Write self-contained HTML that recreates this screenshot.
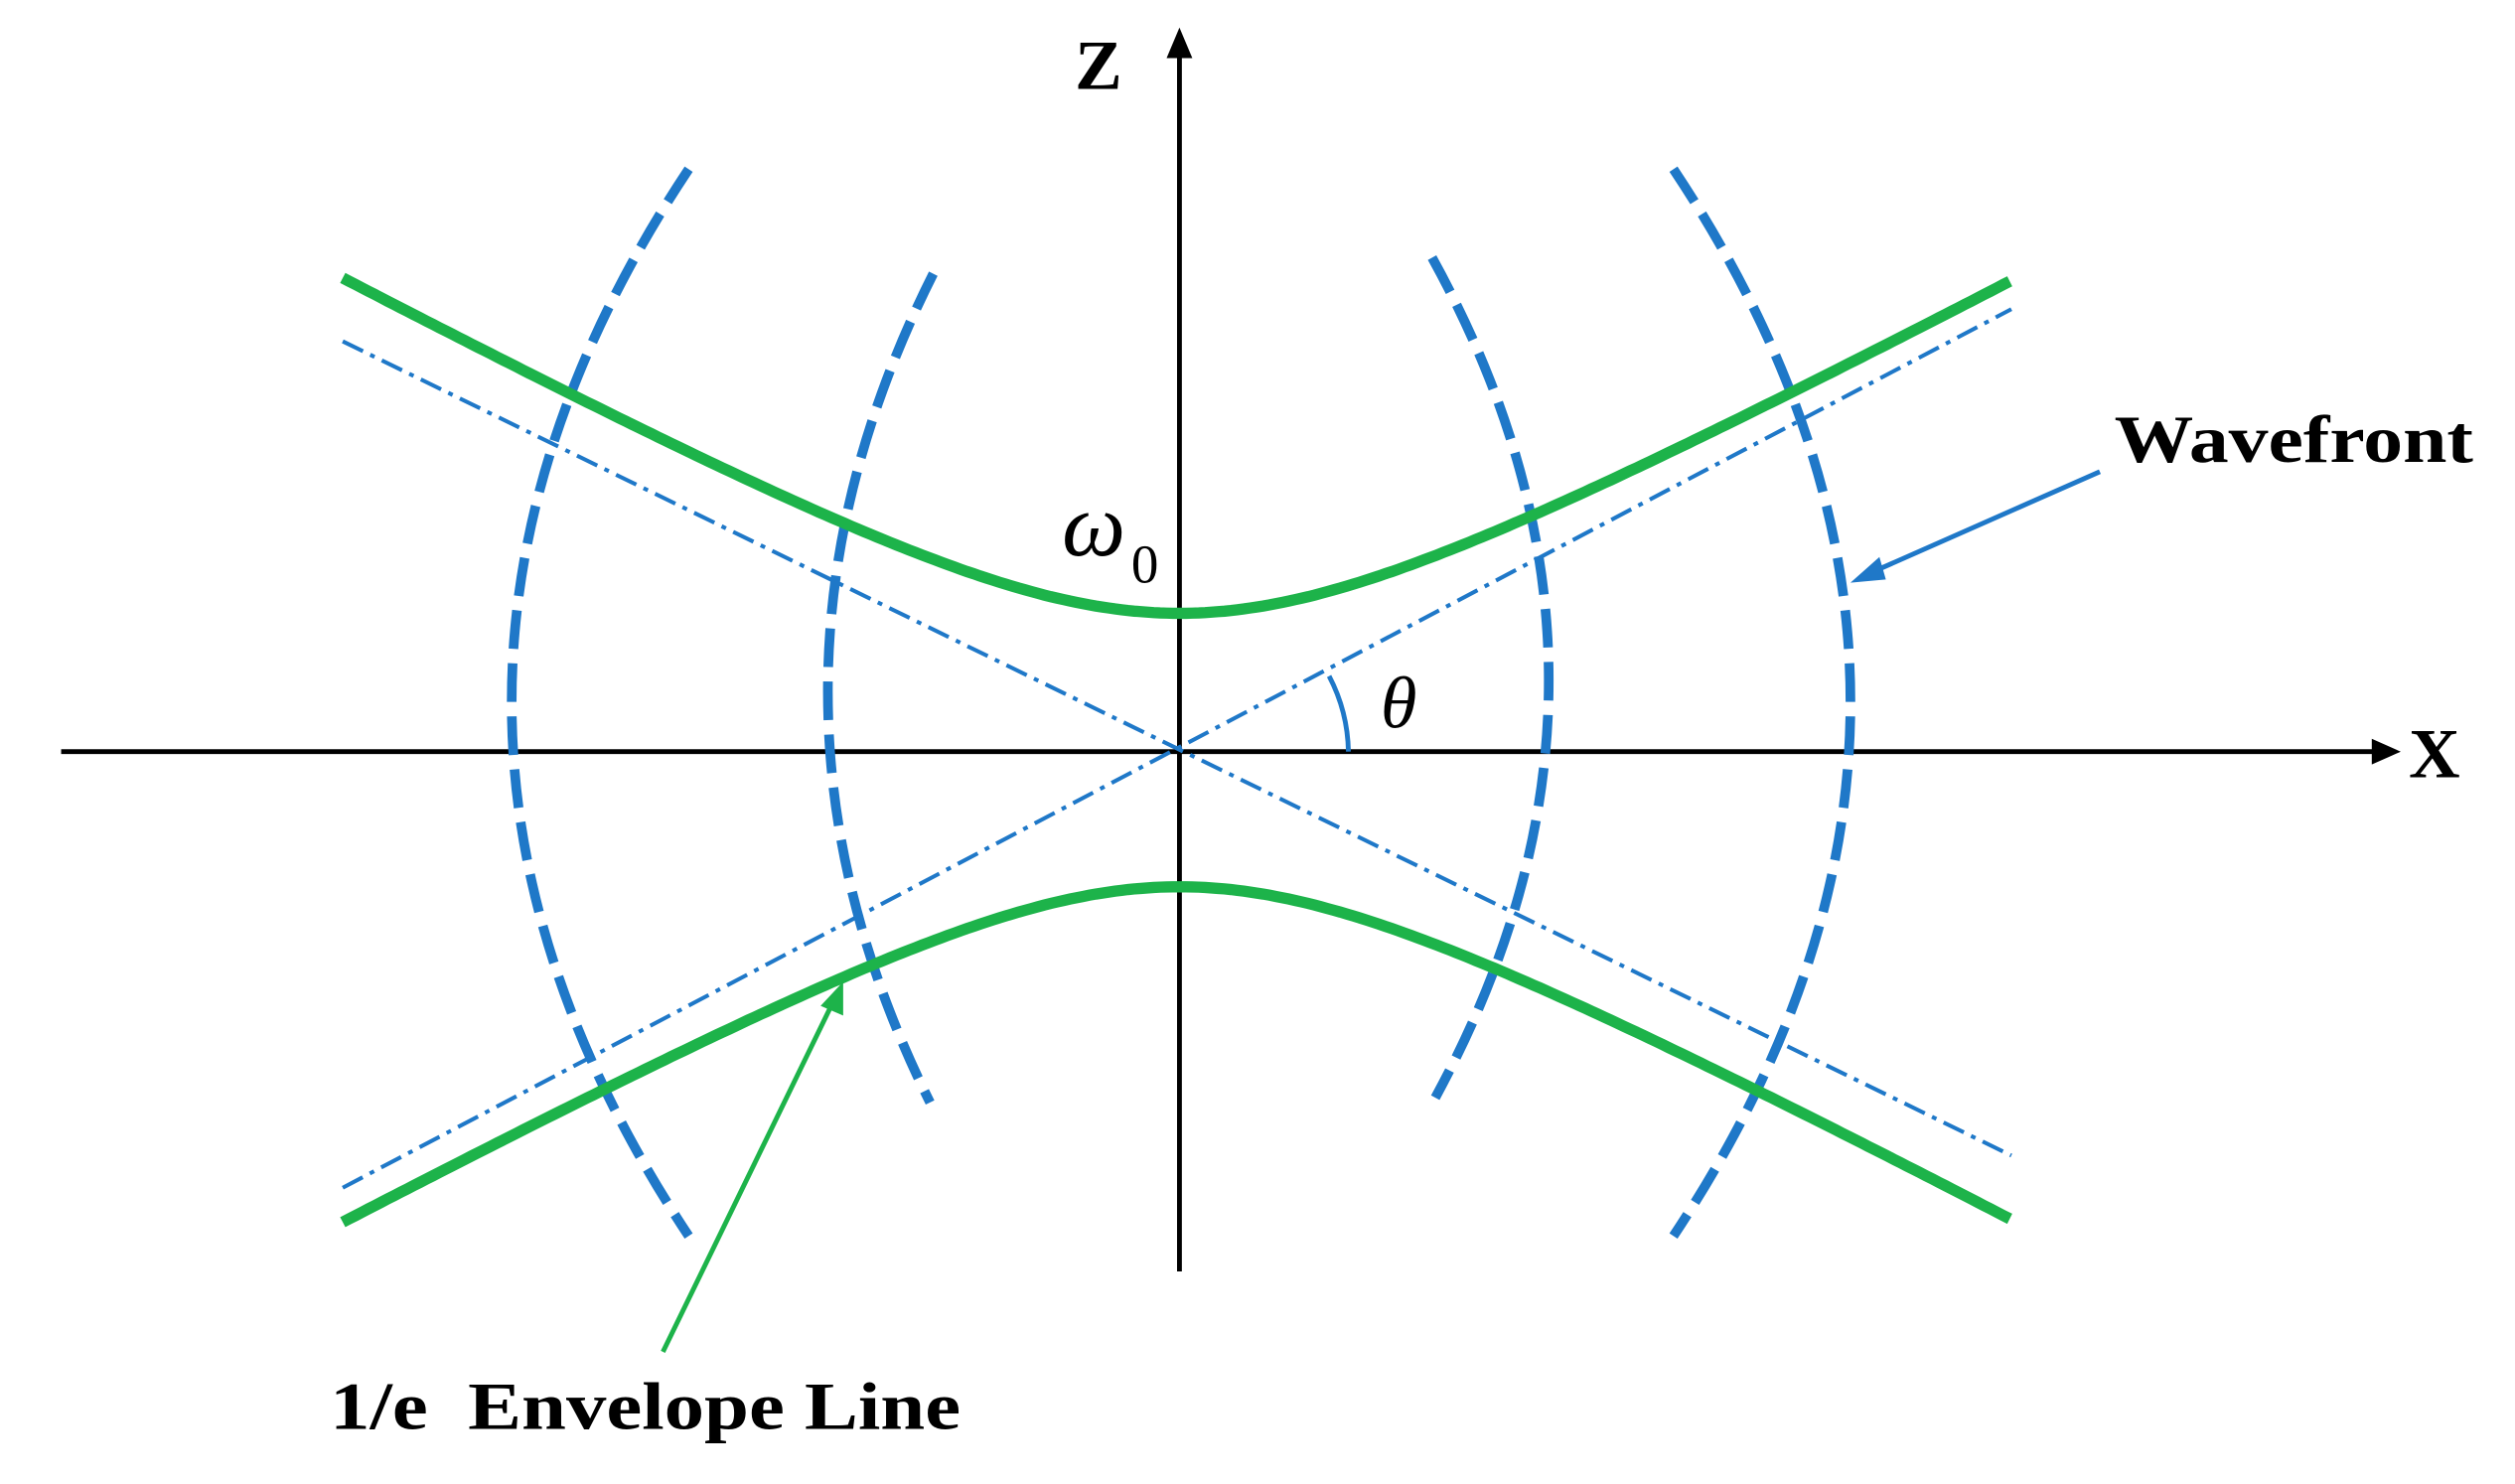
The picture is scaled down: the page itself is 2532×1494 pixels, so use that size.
<!DOCTYPE html>
<html><head><meta charset="utf-8"><style>
html,body{margin:0;padding:0;background:#fff;}
svg{display:block;}
text{font-family:"Liberation Serif",serif;}
</style></head><body>
<svg id="s" width="2532" height="1494" viewBox="0 0 1563 922" xmlns="http://www.w3.org/2000/svg">
<rect width="1563" height="922" fill="#fff"/>
<!-- axes -->
<line x1="38" y1="467" x2="1480" y2="467" stroke="#000" stroke-width="3"/>
<path d="M1492,467 L1474,459 L1474,475 Z" fill="#000"/>
<line x1="733" y1="790" x2="733" y2="30" stroke="#000" stroke-width="3"/>
<path d="M733,17 L725,36 L741,36 Z" fill="#000"/>
<text x="668" y="55" font-size="44" font-weight="bold">Z</text>
<text x="1497" y="483" font-size="44" font-weight="bold">X</text>
<!-- asymptotes -->
<g stroke="#1f78c8" stroke-width="2.5" stroke-dasharray="14 5 3 5" fill="none">
<line x1="213" y1="212" x2="1250" y2="718"/>
<line x1="213" y1="738" x2="1250" y2="192"/>
</g>
<!-- wavefronts -->
<g stroke="#1f78c8" stroke-width="6" stroke-dasharray="24 9" fill="none">
<path d="M428,105 Q208,436 428,768"/>
<path d="M580,170 Q450,428 578,685"/>
<path d="M890,160 Q1034,421 892,682"/>
<path d="M1040,105 Q1260,436 1040,768"/>
</g>
<!-- hyperbolas -->
<path id="h1" fill="none" stroke="#1db34a" stroke-width="7"/>
<path id="h2" fill="none" stroke="#1db34a" stroke-width="7"/>
<!-- theta arc -->
<path d="M838,467 A105,105 0 0 0 826,420" fill="none" stroke="#1f78c8" stroke-width="3"/>
<text x="858" y="452" font-size="46" font-style="italic">θ</text>
<text x="660" y="345" font-size="56" font-style="italic">ω</text>
<text x="703" y="362" font-size="34">0</text>
<!-- labels -->
<text x="1314" y="287" font-size="42" font-weight="bold" textLength="223" lengthAdjust="spacingAndGlyphs">Wavefront</text>
<line x1="1305" y1="293" x2="1160" y2="357" stroke="#1f78c8" stroke-width="3"/>
<path d="M1150,362 L1168,346 L1172,360 Z" fill="#1f78c8"/>
<text x="205" y="888" font-size="42" font-weight="bold" xml:space="preserve" textLength="392" lengthAdjust="spacingAndGlyphs">1/e  Envelope Line</text>
<line x1="412" y1="840" x2="518" y2="622" stroke="#1db34a" stroke-width="3"/>
<path d="M524,610 L510,625 L524,631 Z" fill="#1db34a"/>
</svg>
<script>
var a=85,k=0.54,c=466,p1="",p2="";
for(var x=213;x<=1250;x+=4){var d=Math.sqrt(a*a+Math.pow(k*(x-733),2));
p1+=(x==213?"M":"L")+x+","+(c-d).toFixed(1);p2+=(x==213?"M":"L")+x+","+(c+d).toFixed(1);}
document.getElementById("h1").setAttribute("d",p1);
document.getElementById("h2").setAttribute("d",p2);
</script>
</body></html>
